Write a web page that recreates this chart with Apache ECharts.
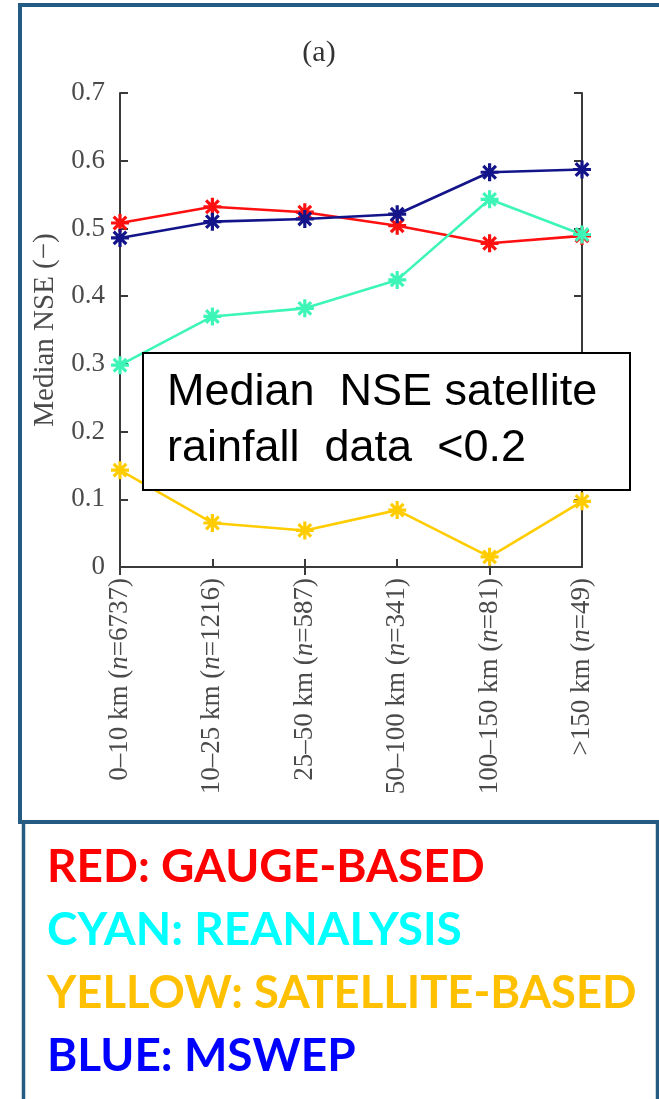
<!DOCTYPE html>
<html>
<head>
<meta charset="utf-8">
<script src="https://cdn.jsdelivr.net/npm/echarts@6/dist/echarts.min.js"></script>
<style>
html,body{margin:0;padding:0;background:#fff;}
#chart{width:659px;height:1099px;}
</style>
</head>
<body>
<div id="chart"></div>
<script>
// ---- data ----
const distances = ['0–10 km', '10–25 km', '25–50 km', '50–100 km', '100–150 km', '>150 km'];
const counts = [6737, 1216, 587, 341, 81, 49];
const gaugeBased = [0.508, 0.532, 0.524, 0.504, 0.478, 0.489];
const reanalysis = [0.298, 0.370, 0.382, 0.424, 0.543, 0.491];
const satelliteBased = [0.143, 0.065, 0.054, 0.084, 0.015, 0.097];
const mswep = [0.486, 0.510, 0.514, 0.521, 0.583, 0.587];
const yTicks = [0, 0.1, 0.2, 0.3, 0.4, 0.5, 0.6, 0.7];
const legendLines = [
  ['RED: GAUGE-BASED', '#ff0000'],
  ['CYAN: REANALYSIS', '#00ffff'],
  ['YELLOW: SATELLITE-BASED', '#ffc000'],
  ['BLUE: MSWEP', '#0000ff']
];
const noteLines = ['Median  NSE satellite', 'rainfall  data  <0.2'];

const categories = distances.map((d, i) => d + '|' + counts[i]);

const chart = echarts.init(document.getElementById('chart'));
const serif = '"Liberation Serif", "DejaVu Serif", serif';
const axisCol = '#3a3a3a';
const labelCol = '#4a4a4a';
const star = 'path://M10 0L10 20M0 10L20 10M3 3L17 17M3 17L17 3';

function mkSeries(name, data, color) {
  return {
    name, type: 'line', data,
    symbol: star, symbolSize: 18,
    lineStyle: {color, width: 2.6},
    itemStyle: {color, borderColor: color, borderWidth: 3.2},
    emphasis: {disabled: true}
  };
}

const graphics = [
  // upper frame
  {type: 'rect', shape: {x: 20, y: 5, width: 700, height: 817}, style: {fill: 'none', stroke: '#245b82', lineWidth: 4}, z: 200},
  // lower frame
  {type: 'rect', shape: {x: 23.5, y: 822, width: 634, height: 300}, style: {fill: 'none', stroke: '#245b82', lineWidth: 3.5}, z: 200},
  {type: 'text', x: 319, y: 53, style: {text: '(a)', font: '30px "Liberation Serif", serif', fill: '#333', textAlign: 'center', textVerticalAlign: 'middle'}, z: 100},
  // annotation box
  {type: 'rect', shape: {x: 143, y: 353, width: 487, height: 137}, style: {fill: '#fff', stroke: '#000', lineWidth: 2}, z: 100},
  {type: 'text', x: 167, y: 393, style: {text: noteLines[0], fontSize: 45, fontFamily: '"Liberation Sans", Arial, sans-serif', fill: '#000', textVerticalAlign: 'middle'}, z: 101},
  {type: 'text', x: 167, y: 449, style: {text: noteLines[1], fontSize: 45, fontFamily: '"Liberation Sans", Arial, sans-serif', fill: '#000', textVerticalAlign: 'middle'}, z: 101}
];
const legendY = [867, 930, 993, 1056];
legendLines.forEach((l, i) => {
  graphics.push({type: 'text', x: 47, y: legendY[i], scaleX: i === 2 ? 0.985 : 1,
    style: {text: l[0], fontSize: 46, fontWeight: 'bold', fontFamily: 'Lato, "Open Sans", sans-serif', fill: l[1], textVerticalAlign: 'middle'}, z: 100});
});

const labelFmt = v => {
  const p = v.split('|');
  return p[0] + ' ({i|n}=' + p[1] + ')';
};

chart.setOption({
  animation: false,
  backgroundColor: '#fff',
  grid: {left: 120, right: 77, top: 93, bottom: 532, containLabel: false},
  xAxis: [{
    type: 'category', data: categories, boundaryGap: false, position: 'bottom',
    axisLine: {lineStyle: {color: axisCol, width: 2}},
    axisTick: {inside: true, length: 8, lineStyle: {color: axisCol, width: 2}},
    axisLabel: {
      rotate: 90, margin: 11, color: labelCol, fontFamily: serif, fontSize: 27,
      formatter: labelFmt,
      rich: {i: {fontStyle: 'italic', fontFamily: serif, fontSize: 27, color: labelCol}}
    },
    splitLine: {show: false}
  }, {
    type: 'category', data: categories, boundaryGap: false, position: 'top',
    axisLine: {lineStyle: {color: axisCol, width: 2}},
    axisTick: {inside: true, length: 8, lineStyle: {color: axisCol, width: 2}},
    axisLabel: {show: false}, splitLine: {show: false}
  }],
  yAxis: [{
    type: 'value', min: yTicks[0], max: yTicks[yTicks.length - 1], interval: 0.1, position: 'left',
    name: 'Median NSE (−)', nameLocation: 'middle', nameGap: 60,
    nameTextStyle: {fontFamily: serif, fontSize: 29, color: labelCol},
    axisLine: {show: true, lineStyle: {color: axisCol, width: 2}},
    axisTick: {show: true, inside: true, length: 8, lineStyle: {color: axisCol, width: 2}},
    axisLabel: {margin: 15, color: labelCol, fontFamily: serif, fontSize: 27,
      formatter: v => (Math.abs(v) < 1e-9 ? '0' : v.toFixed(1))},
    splitLine: {show: false}
  }, {
    type: 'value', min: yTicks[0], max: yTicks[yTicks.length - 1], interval: 0.1, position: 'right',
    axisLine: {show: true, lineStyle: {color: axisCol, width: 2}},
    axisTick: {show: true, inside: true, length: 8, lineStyle: {color: axisCol, width: 2}},
    axisLabel: {show: false}, splitLine: {show: false}
  }],
  series: [
    mkSeries('Satellite-based', satelliteBased, '#ffcc00'),
    mkSeries('Gauge-based', gaugeBased, '#ff1010'),
    mkSeries('Reanalysis', reanalysis, '#3ef5b8'),
    mkSeries('MSWEP', mswep, '#14148a')
  ],
  graphic: graphics
});
</script>
</body>
</html>
